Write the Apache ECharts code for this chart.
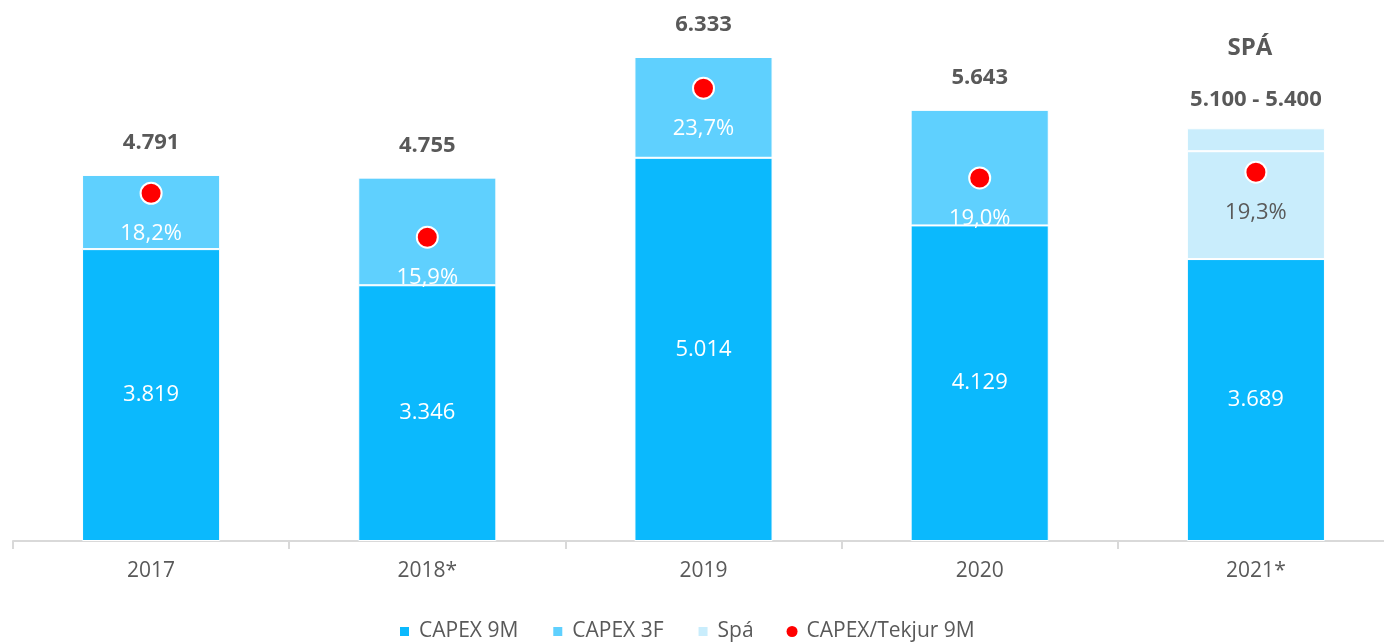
<!DOCTYPE html>
<html>
<head>
<meta charset="utf-8">
<script src="https://cdn.jsdelivr.net/npm/echarts@6/dist/echarts.min.js"></script>
<style>
  html, body { margin: 0; padding: 0; background: #fff; overflow: hidden; }
  #chart { width: 1394px; height: 643px; }
</style>
</head>
<body>
<div id="chart"></div>
<script>
const years = ["2017", "2018*", "2019", "2020", "2021*"]
const capex9m = [3819, 3346, 5014, 4129, 3689]
const capex3f = [972, 1409, 1319, 1514, 0]
const spaLow = [0, 0, 0, 0, 1411]
const spaHigh = [0, 0, 0, 0, 300]
const totalLabels = ["4.791", "4.755", "6.333", "5.643", "5.100 - 5.400"]
const ratio = [18.2, 15.9, 23.7, 19.0, 19.3]

const font = "'Open Sans', 'Noto Sans', sans-serif"
const gray = "#595959"

let chart = echarts.init(document.getElementById("chart"))

chart.setOption({
  animation: false,
  textStyle: { fontFamily: font },
  grid: {
    left: 13,
    top: 6,
    right: 0,
    bottom: 102,
    containLabel: false
  },
  legend: {
    top: 616,
    left: 393,
    itemWidth: 11,
    itemHeight: 11,
    itemGap: 33,
    textStyle: { color: gray, fontSize: 21, fontFamily: font, padding: [0, 0, 0, 4] },
    data: [
      { name: "CAPEX 9M", icon: "rect" },
      { name: "CAPEX 3F", icon: "rect" },
      { name: "Spá", icon: "rect" },
      { name: "CAPEX/Tekjur 9M", icon: "circle", itemStyle: { borderWidth: 0, opacity: 1 } }
    ]
  },
  xAxis: {
    type: "category",
    data: years,
    axisLine: { lineStyle: { color: "#d9d9d9", width: 2 } },
    axisTick: { show: true, length: 8, lineStyle: { color: "#d9d9d9", width: 2 } },
    axisLabel: { color: gray, fontSize: 21, margin: 20 }
  },
  yAxis: [
    { type: "value", min: 0, max: 7000, show: false },
    { type: "value", min: 0, max: 28, show: false }
  ],
  series: [
    {
      name: "CAPEX 9M",
      type: "bar",
      stack: "capex",
      barWidth: "50%",
      data: capex9m,
      itemStyle: { color: "#0bb9fd", borderColor: "#fff", borderWidth: 1 },
      label: {
        show: true,
        position: "inside",
        color: "#fff",
        fontSize: 22,
        formatter: (p) => p.value.toLocaleString("de-DE")
      }
    },
    {
      name: "CAPEX 3F",
      type: "bar",
      stack: "capex",
      data: capex3f.map((v, i) => i < 4 ? {
        value: v,
        label: { show: true, position: "top", distance: 21, formatter: totalLabels[i] }
      } : v),
      itemStyle: { color: "#5fd0fe", borderColor: "#fff", borderWidth: 1 },
      label: { show: false, color: gray, fontSize: 22, fontWeight: "bold" }
    },
    {
      name: "Spá",
      type: "bar",
      stack: "capex",
      data: spaLow,
      itemStyle: { color: "#c9edfc", borderColor: "#fff", borderWidth: 1 }
    },
    {
      name: "Spá",
      type: "bar",
      stack: "capex",
      data: spaHigh.map((v, i) => i === 4 ? {
        value: v,
        label: {
          show: true,
          position: "top",
          distance: 18,
          formatter: "{s|SPÁ}\n{v|" + totalLabels[i] + "}",
          rich: {
            s: { fontSize: 24, fontWeight: "bold", color: gray, height: 80, align: "center", padding: [0, 12, 0, 0] },
            v: { fontSize: 22, fontWeight: "bold", color: gray, align: "center" }
          }
        }
      } : v),
      itemStyle: { color: "#c9edfc", borderColor: "#fff", borderWidth: 1 }
    },
    {
      name: "CAPEX/Tekjur 9M",
      type: "scatter",
      yAxisIndex: 1,
      symbolSize: 21,
      z: 5,
      data: ratio.map((v, i) => ({
        value: v,
        label: { color: i === 4 ? gray : "#fff" }
      })),
      itemStyle: { color: "#ff0000", borderColor: "#fff", borderWidth: 2, opacity: 1 },
      label: {
        show: true,
        position: "bottom",
        distance: 18,
        fontSize: 22,
        formatter: (p) => p.value.toFixed(1).replace(".", ",") + "%"
      }
    }
  ]
})
</script>
</body>
</html>
